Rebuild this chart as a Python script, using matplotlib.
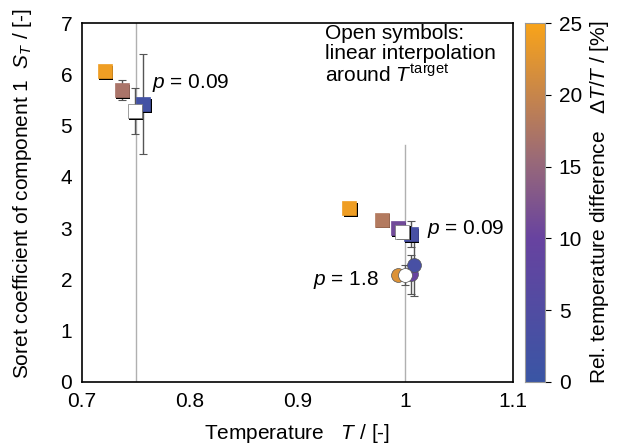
import matplotlib
matplotlib.use("Agg")
import matplotlib.pyplot as plt
from matplotlib.transforms import offset_copy
from matplotlib.colors import LinearSegmentedColormap, Normalize
import numpy as np

plt.rcParams['font.family'] = ['Liberation Sans', 'DejaVu Sans']
plt.rcParams['mathtext.fontset'] = 'custom'
plt.rcParams['mathtext.rm'] = 'Liberation Sans'
plt.rcParams['mathtext.it'] = 'Liberation Sans:italic'

# filled squares
sq_T = [0.721, 0.737, 0.757, 0.948, 0.978, 0.993, 1.005]
sq_S = [6.06, 5.69, 5.42, 3.39, 3.16, 3.00, 2.88]
sq_err = [0.05, 0.20, 0.97, 0.03, 0.03, 0.05, 0.25]
sq_dT = [24, 17, 2, 24, 18, 11, 3]
# filled circles
ci_T = [0.993, 1.005, 1.008]
ci_S = [2.09, 2.10, 2.28]
ci_err = [0.05, 0.38, 0.60]
ci_dT = [22, 10, 3]
# open symbols (interpolated)
op_sq_T = [0.749, 0.997]
op_sq_S = [5.28, 2.93]
op_sq_err = [0.45, 0.10]
op_ci_T = [1.000]
op_ci_S = [2.09]
op_ci_err = [0.20]
# target temperatures
T_target = [0.75, 1.0]
line_top = [7.0, 4.63]

cmap = LinearSegmentedColormap.from_list(
    'reltemp', [(0.0, '#3a56a5'), (0.4, '#6843a0'), (0.62, '#9a6a78'),
                (1.0, '#f9a41a')])
norm = Normalize(0, 25)

FS = 15

fig = plt.figure(figsize=(6.22, 4.46), dpi=100)
ax = fig.add_axes([0.1318, 0.1435, 0.6930, 0.8049])
cax = fig.add_axes([0.844, 0.1435, 0.032, 0.8049])

for t, top in zip(T_target, line_top):
    ax.plot([t, t], [0, top], color='#b0b0b0', lw=1.0, zorder=1)

shadow_tr = offset_copy(ax.transData, fig=fig, x=1.5, y=-1.5, units='dots')

def draw(T, S, err, dT, marker, open_=False):
    for t, s, e, d in zip(T, S, err, dT):
        ax.errorbar(t, s, yerr=e, fmt='none', ecolor='#555555', elinewidth=1.0,
                    capsize=3, capthick=0.8, zorder=2)
        fc = 'white' if open_ else cmap(norm(d))
        if marker == 's':
            ax.plot(t, s, marker='s', ms=9.5, mfc='black', mec='black', mew=0,
                    ls='none', transform=shadow_tr, zorder=3)
            ax.plot(t, s, marker='s', ms=9.5, mfc=fc, mec=fc if not open_ else '#777777',
                    mew=0.5, ls='none', zorder=3)
        else:
            ax.plot(t, s, marker='o', ms=10, mfc=fc, mec='#555555',
                    mew=0.5, ls='none', zorder=3)

draw(sq_T, sq_S, sq_err, sq_dT, 's')
draw(ci_T, ci_S, ci_err, ci_dT, 'o')
draw(op_sq_T, op_sq_S, op_sq_err, [0]*len(op_sq_T), 's', True)
draw(op_ci_T, op_ci_S, op_ci_err, [0]*len(op_ci_T), 'o', True)

ax.set_xlim(0.7, 1.1)
ax.set_ylim(0, 7)
ax.set_xticks([0.7, 0.8, 0.9, 1.0, 1.1])
ax.set_xticklabels(['0.7', '0.8', '0.9', '1', '1.1'])
ax.set_yticks(range(0, 8))
ax.tick_params(length=0, labelsize=FS, pad=7)
for sp in ax.spines.values():
    sp.set_linewidth(1.2)

ax.set_xlabel('Temperature   $T$ / [-]', fontsize=FS, labelpad=8)
ax.set_ylabel('Soret coefficient of component 1  $S_T$ / [-]', fontsize=FS, labelpad=19)
ax.yaxis.label.set_y(0.525)

ax.text(0.765, 5.83, '$p$ = 0.09', fontsize=FS, va='center')
ax.text(1.020, 2.98, '$p$ = 0.09', fontsize=FS, va='center')
ax.text(0.914, 1.99, '$p$ = 1.8', fontsize=FS, va='center')
ax.text(0.9255, 6.99, 'Open symbols:\nlinear interpolation\naround $T^{\\mathrm{target}}$',
        fontsize=FS, va='top', ha='left', linespacing=1.1)

grad = np.linspace(0, 25, 256).reshape(-1, 1)
cax.imshow(grad, aspect='auto', cmap=cmap, origin='lower', extent=[0, 1, 0, 25])
cax.set_xticks([])
cax.yaxis.tick_right()
cax.yaxis.set_label_position('right')
cax.set_yticks([0, 5, 10, 15, 20, 25])
cax.tick_params(axis='y', length=4, width=0.8, labelsize=FS, pad=6)
for sp in cax.spines.values():
    sp.set_color('#999999')
    sp.set_linewidth(0.8)
cax.set_ylabel('Rel. temperature difference   $\\Delta T/T$ / [%]', fontsize=FS, labelpad=4)

fig.savefig('out.png', dpi=100)
